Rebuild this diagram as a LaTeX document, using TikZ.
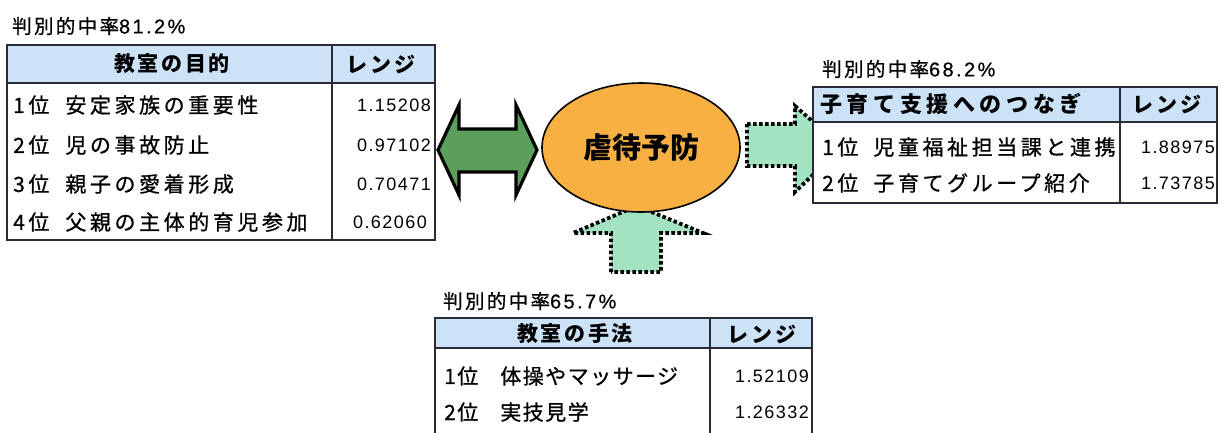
\documentclass[tikz,border=0pt]{standalone}
\usepackage{fontspec}
\setmainfont{Noto Sans CJK JP}
\newfontfamily\jpRow[LetterSpace=17,FakeBold=0.8]{Noto Sans CJK JP}
\newfontfamily\jpRowB[LetterSpace=7,FakeBold=0.8]{Noto Sans CJK JP}
\newfontfamily\jpHead[LetterSpace=12]{Noto Sans CJK JP}
\newfontfamily\jpHeadR[LetterSpace=21]{Noto Sans CJK JP}
\newfontfamily\jpTitle[LetterSpace=12,FakeBold=0.8]{Noto Sans CJK JP}
\newfontfamily\jpTitleNum[LetterSpace=12,FakeBold=0.6]{Liberation Sans}
\newfontfamily\jpNum[LetterSpace=8]{Liberation Sans}
\usetikzlibrary{shapes.geometric}
\definecolor{hdrblue}{HTML}{CCE2F7}
\definecolor{tblline}{HTML}{2A2A38}
\definecolor{arrowgreen}{HTML}{5C9E5C}
\definecolor{mint}{HTML}{A3E3C2}
\definecolor{coreorange}{HTML}{F8B043}
\newcommand{\ttlnum}[1]{{\jpTitleNum\fontsize{20}{20}\selectfont #1}}
\tikzset{
  tbl/.style={draw=tblline, line width=1.8pt},
  txt/.style={inner sep=0pt, text=black},
  rowtxt/.style={txt, anchor=west, font=\jpRow\fontsize{21}{21}\selectfont},
  rowtxtb/.style={txt, anchor=west, font=\jpRowB\fontsize{21}{21}\selectfont},
  numtxt/.style={txt, anchor=east, font=\jpNum\fontsize{18}{18}\selectfont},
  headtxt/.style={txt, font=\jpHead\bfseries\fontsize{21}{21}\selectfont},
  headtxtr/.style={txt, anchor=west, font=\jpHeadR\bfseries\fontsize{22}{22}\selectfont},
  titletxt/.style={txt, anchor=west, font=\jpTitle\fontsize{19.5}{19.5}\selectfont},
  dblarrow/.style={fill=arrowgreen, draw=black, line width=3.2pt, line join=miter},
  dotarrow/.style={fill=mint, draw=black, line width=3.8pt, dash pattern=on 3.5pt off 2.5pt, line join=miter},
  core/.style={ellipse, draw=black, line width=1.6pt, fill=coreorange, inner sep=0pt,
    minimum width=198pt, minimum height=129pt, font=\bfseries\fontsize{29}{29}\selectfont}
}
\begin{document}
\begin{tikzpicture}[x=1pt,y=-1pt]
\useasboundingbox (0,0) rectangle (1222,432);
\clip (0,0) rectangle (1222,432);
\fill[white] (0,0) rectangle (1222,432);

% ---------- arrows (drawn first, tables and ellipse cover their tips)
\draw[dblarrow] (438,150) -- (459,105) -- (459,129) -- (516,129) -- (516,105)
  -- (537,150) -- (516,195) -- (516,172) -- (459,172) -- (459,195) -- cycle;
\draw[dotarrow] (747,124) -- (795,124) -- (795,106) -- (842,147) -- (795,192)
  -- (795,166) -- (747,166) -- cycle;
\draw[dotarrow] (611,272) -- (611,233) -- (573,233) -- (637,206) -- (703,233)
  -- (661,233) -- (661,272) -- cycle;

% ---------- central ellipse
\node[core] (core) at (641,147.5) {虐待予防};

% ---------- left table
\node[titletxt] (tLtitle) at (12,26) {判別的中率\ttlnum{81.2\%}};
\fill[white] (7,45) rectangle (435,240);
\fill[hdrblue] (7,45) rectangle (435,83);
\draw[tbl] (7,45) rectangle (435,240);
\draw[tbl] (7,83) -- (435,83);
\draw[tbl] (332,45) -- (332,240);
\node[headtxt] (tLh1) at (172,64) {教室の目的};
\node[headtxt] (tLh2) at (381,64) {レンジ};
\node[rowtxt] (tLr1) at (13,105) {1位\hspace{16pt}安定家族の重要性};
\node[rowtxt] (tLr2) at (13,145) {2位\hspace{16pt}児の事故防止};
\node[rowtxt] (tLr3) at (13,184) {3位\hspace{16pt}親子の愛着形成};
\node[rowtxt] (tLr4) at (13,222) {4位\hspace{16pt}父親の主体的育児参加};
\node[numtxt] (tLn1) at (431,105) {1.15208};
\node[numtxt] (tLn2) at (431,145) {0.97102};
\node[numtxt] (tLn3) at (431,184) {0.70471};
\node[numtxt] (tLn4) at (427,222) {0.62060};

% ---------- right table
\node[titletxt] (tRtitle) at (822,69) {判別的中率\ttlnum{68.2\%}};
\fill[white] (813,87) rectangle (1217,203);
\fill[hdrblue] (813,87) rectangle (1217,122);
\draw[tbl] (813,87) rectangle (1217,203);
\draw[tbl] (813,122) -- (1217,122);
\draw[tbl] (1120,87) -- (1120,203);
\node[headtxtr] (tRh1) at (820,104) {子育て支援へのつなぎ};
\node[headtxt] (tRh2) at (1167,104) {レンジ};
\node[rowtxt] (tRr1) at (822,147) {1位\hspace{15pt}児童福祉担当課と連携};
\node[rowtxt] (tRr2) at (822,183) {2位\hspace{15pt}子育てグループ紹介};
\node[numtxt] (tRn1) at (1215,147) {1.88975};
\node[numtxt] (tRn2) at (1215,183) {1.73785};

% ---------- bottom table
\node[titletxt] (tBtitle) at (443,301) {判別的中率\ttlnum{65.7\%}};
\fill[white] (435,318) rectangle (812,450);
\fill[hdrblue] (435,318) rectangle (812,348);
\draw[tbl] (435,318) rectangle (812,450);
\draw[tbl] (435,348) -- (812,348);
\draw[tbl] (710,318) -- (710,450);
\node[headtxt] (tBh1) at (575,334) {教室の手法};
\node[headtxt] (tBh2) at (762,334) {レンジ};
\node[rowtxtb] (tBr1) at (444,376) {1位\hspace{22pt}体操やマッサージ};
\node[rowtxtb] (tBr2) at (444,412) {2位\hspace{22pt}実技見学};
\node[numtxt] (tBn1) at (809,376) {1.52109};
\node[numtxt] (tBn2) at (809,412) {1.26332};
\end{tikzpicture}
\end{document}
